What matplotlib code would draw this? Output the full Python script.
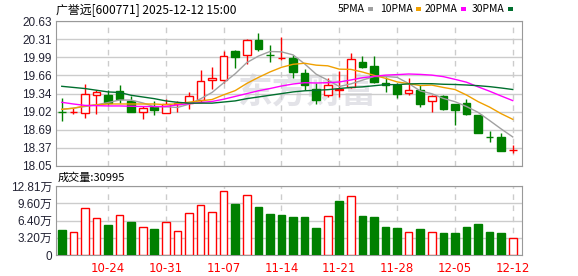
import numpy as np
import matplotlib
matplotlib.use("Agg")
import matplotlib.pyplot as plt
from matplotlib.patches import Rectangle

plt.rcParams['font.family'] = ['Liberation Sans', 'Noto Sans CJK SC', 'DejaVu Sans']

# daily candles 2025-10-20 .. 2025-12-12
opens  = [19.02, 19.01, 18.99, 19.31, 19.32, 19.39, 19.21, 19.02, 19.10, 18.99,
          19.15, 19.18, 19.23, 19.59, 19.59, 20.10, 20.02, 20.29, 20.03, 19.97,
          19.97, 19.71, 19.42, 19.31, 19.405, 19.45, 19.90, 19.83, 19.53, 19.49,
          19.345, 19.41, 19.20, 19.29, 19.155, 19.18, 18.96, 18.575, 18.56, 18.33]
closes = [19.01, 19.02, 19.33, 19.37, 19.17, 19.24, 19.01, 19.08, 19.04, 19.155,
          19.18, 19.30, 19.56, 19.61, 20.01, 19.99, 20.29, 20.14, 20.02, 19.98,
          19.72, 19.49, 19.22, 19.49, 19.415, 19.95, 19.82, 19.55, 19.49, 19.34,
          19.40, 19.16, 19.30, 19.07, 19.05, 18.97, 18.64, 18.57, 18.32, 18.34]
highs  = [19.26, 19.08, 19.51, 19.41, 19.40, 19.50, 19.30, 19.12, 19.20, 19.24,
          19.21, 19.36, 19.76, 19.81, 20.10, 20.12, 20.32, 20.42, 20.20, 20.35,
          20.02, 19.78, 19.52, 19.61, 19.74, 20.06, 20.01, 20.01, 19.64, 19.52,
          19.61, 19.50, 19.32, 19.31, 19.16, 19.24, 18.96, 18.68, 18.64, 18.42]
lows   = [18.86, 18.98, 18.91, 18.98, 19.13, 19.17, 19.01, 18.89, 18.96, 18.99,
          19.02, 19.06, 19.19, 19.43, 19.53, 19.80, 19.86, 20.10, 19.90, 19.945,
          19.62, 19.40, 19.16, 19.28, 19.28, 19.44, 19.80, 19.53, 19.37, 19.26,
          19.32, 19.11, 19.02, 19.05, 18.78, 18.95, 18.64, 18.47, 18.32, 18.29]
prev_close = 19.05
vols = [46400, 42700, 86700, 68100, 55700, 74300, 61300, 51400, 48300, 60600,
        43900, 77300, 92100, 79200, 118200, 94700, 111400, 89100, 76100, 74300,
        70500, 70500, 50100, 71800, 100200, 108900, 72400, 70500, 52000, 50100,
        42700, 48300, 42700, 40800, 40800, 52000, 57500, 42700, 40800, 30995]

ma5_head = [19.06, 19.08, 19.11, 19.14]
ma10_head = [19.06, 19.08, 19.12, 19.14, 19.155, 19.155, 19.155, 19.155, 19.155]
ma20_head = [19.185, 19.155, 19.13, 19.125, 19.12, 19.12, 19.115, 19.11, 19.11, 19.11,
             19.14, 19.16, 19.18, 19.20, 19.24, 19.29, 19.34, 19.39, 19.43]
ma30_head = [19.47, 19.45, 19.43, 19.40, 19.37, 19.36, 19.31, 19.28, 19.25, 19.21,
             19.185, 19.17, 19.17, 19.17, 19.19, 19.21, 19.25, 19.28, 19.31, 19.34,
             19.37, 19.39, 19.40, 19.41, 19.43, 19.45, 19.46, 19.48, 19.50]

date_ticks = [4, 9, 14, 19, 24, 29, 34, 39]
date_labels = ['10-24', '10-31', '11-07', '11-14', '11-21', '11-28', '12-05', '12-12']
price_labels = ['18.05', '18.37', '18.69', '19.02', '19.34', '19.66', '19.99', '20.31', '20.63']
vol_labels = ['0', '3.20万', '6.40万', '9.60万', '12.81万']

RED = '#ff0000'
GREEN = '#008000'
ma_colors = {'5PMA': '#a0a0a0', '10PMA': '#f0a000', '20PMA': '#ff00ff', '30PMA': '#006f2e'}
GRID = '#cccccc'
SPINE = '#999999'
LABEL = '#222233'


def moving_avg(head, n):
    out = list(head)
    for i in range(len(head), len(closes)):
        out.append(np.mean(closes[i - n + 1:i + 1]))
    return out


ma_lines = {'5PMA': moving_avg(ma5_head, 5), '10PMA': moving_avg(ma10_head, 10),
            '20PMA': moving_avg(ma20_head, 20), '30PMA': moving_avg(ma30_head, 30)}

fig = plt.figure(figsize=(5.78, 2.76), dpi=100)
ax = fig.add_axes([56 / 578, 1 - 166 / 276, 466 / 578, 144.8 / 276])
axv = fig.add_axes([56 / 578, 1 - 255 / 276, 466 / 578, 69 / 276])

x = np.arange(len(closes))
w = 0.66

# watermark
ax.text(0.54, 0.51, '东方财富', transform=ax.transAxes, ha='center', va='center',
        fontsize=25, color='#e3e3e8', fontweight='bold', family='Noto Sans CJK SC', zorder=0)

for i in x:
    up = closes[i] >= opens[i]
    c = RED if up else GREEN
    ax.vlines(i, lows[i], highs[i], color=c, lw=1, zorder=2)
    lo = min(opens[i], closes[i])
    h = max(abs(closes[i] - opens[i]), 0.004)
    ax.bar(i, h, bottom=lo, width=w, facecolor='white' if up else GREEN,
           edgecolor=c, lw=1, zorder=3)

for name, vals in ma_lines.items():
    ax.plot(x, vals, color=ma_colors[name], lw=1, zorder=4)

ax.set_xlim(-0.5, 39.8)
ax.set_ylim(18.05, 20.63)
ax.set_yticks(np.linspace(18.05, 20.63, len(price_labels)))
ax.set_yticklabels(price_labels)
ax.set_xticks(date_ticks)
ax.set_xticklabels([])

# volume
prev = [prev_close] + closes[:-1]
for i in x:
    up = closes[i] >= prev[i]
    axv.bar(i, vols[i], width=w, facecolor='white' if up else GREEN,
            edgecolor=RED if up else GREEN, lw=1, zorder=3)
axv.set_xlim(-0.5, 39.8)
axv.set_ylim(0, 128100)
axv.set_yticks(np.linspace(0, 128100, len(vol_labels)))
axv.set_yticklabels(vol_labels)
axv.set_xticks(date_ticks)
axv.set_xticklabels(date_labels, color=RED, family='DejaVu Sans', fontsize=7.5)

for a in (ax, axv):
    a.grid(axis='y', color=GRID, lw=1, zorder=0)
    for t in date_ticks:
        a.axvline(t, color=GRID, lw=1, ls=(0, (4, 4)), zorder=0)
    for s in a.spines.values():
        s.set_color(SPINE)
    a.tick_params(length=0, pad=3, labelsize=8.5, labelcolor=LABEL)
    a.set_axisbelow(True)
axv.tick_params(axis='x', pad=5, labelcolor=RED)

fig.text(56 / 578, 1 - 10 / 276, '广誉远[600771] 2025-12-12 15:00', family='Noto Sans CJK SC',
         fontsize=8.6, va='center', ha='left')
fig.text(58 / 578, 1 - 178 / 276, '成交量:30995', family='Noto Sans CJK SC',
         fontsize=8, va='center', ha='left')

# legend: label text followed by a small colour square
leg_x = [338, 380, 425, 472]
renderer = fig.canvas.get_renderer()
for (name, col), lx in zip(ma_colors.items(), leg_x):
    t = fig.text(lx / 578, 1 - 9 / 276, name, family='Noto Sans CJK SC', fontsize=7.5,
                 va='center', ha='left')
    bb = t.get_window_extent(renderer)
    fig.patches.append(Rectangle(((bb.x1 + 3) / 578, 1 - 11 / 276), 5 / 578, 4 / 276,
                                 transform=fig.transFigure, facecolor=col, edgecolor='none'))

fig.savefig('out.png', dpi=100)
